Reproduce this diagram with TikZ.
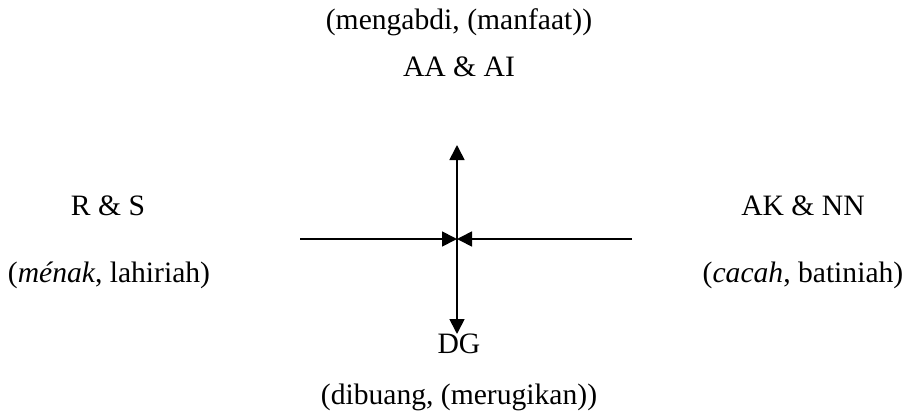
\documentclass[tikz,border=0pt]{standalone}
\usepackage{fontspec}
\setmainfont{Liberation Serif}
\usetikzlibrary{arrows.meta, positioning}

\begin{document}
\begin{tikzpicture}[
        x=0.5pt, y=-0.5pt,
        term/.style={font=\fontsize{14.8}{17}\selectfont, inner sep=0pt, align=center},
        arrow/.style={-{Triangle[length=7.5pt, width=7.5pt]}, line width=0.85pt}
    ]
        \useasboundingbox (0,0) rectangle (905,418);

        % Top
        \node[term] (topnote) at (459, 22) {(mengabdi, (manfaat))};
        \node[term] (aa) at (459, 67) {AA \& AI};

        % Left and right
        \node[term] (rs) at (108, 206) {R \& S};
        \node[term] (menak) at (109, 275) {(\textit{ménak}, lahiriah)};
        \node[term] (ak) at (803, 206) {AK \& NN};
        \node[term] (cacah) at (803, 275) {(\textit{cacah}, batiniah)};

        % Bottom
        \node[term] (dg) at (459, 344) {DG};
        \node[term] (bottomnote) at (459, 397) {(dibuang, (merugikan))};

        % Cross
        \coordinate (centre) at (457, 239);
        \coordinate (up) at (457, 145);
        \coordinate (down) at (457, 334);
        \coordinate (left) at (300, 239);
        \coordinate (right) at (632, 239);

        % Arrows
        \draw[arrow] (centre) -- (up);
        \draw[arrow] (centre) -- (down);
        \draw[arrow] (left) -- (centre);
        \draw[arrow] (right) -- (centre);
    \end{tikzpicture}
\end{document}
